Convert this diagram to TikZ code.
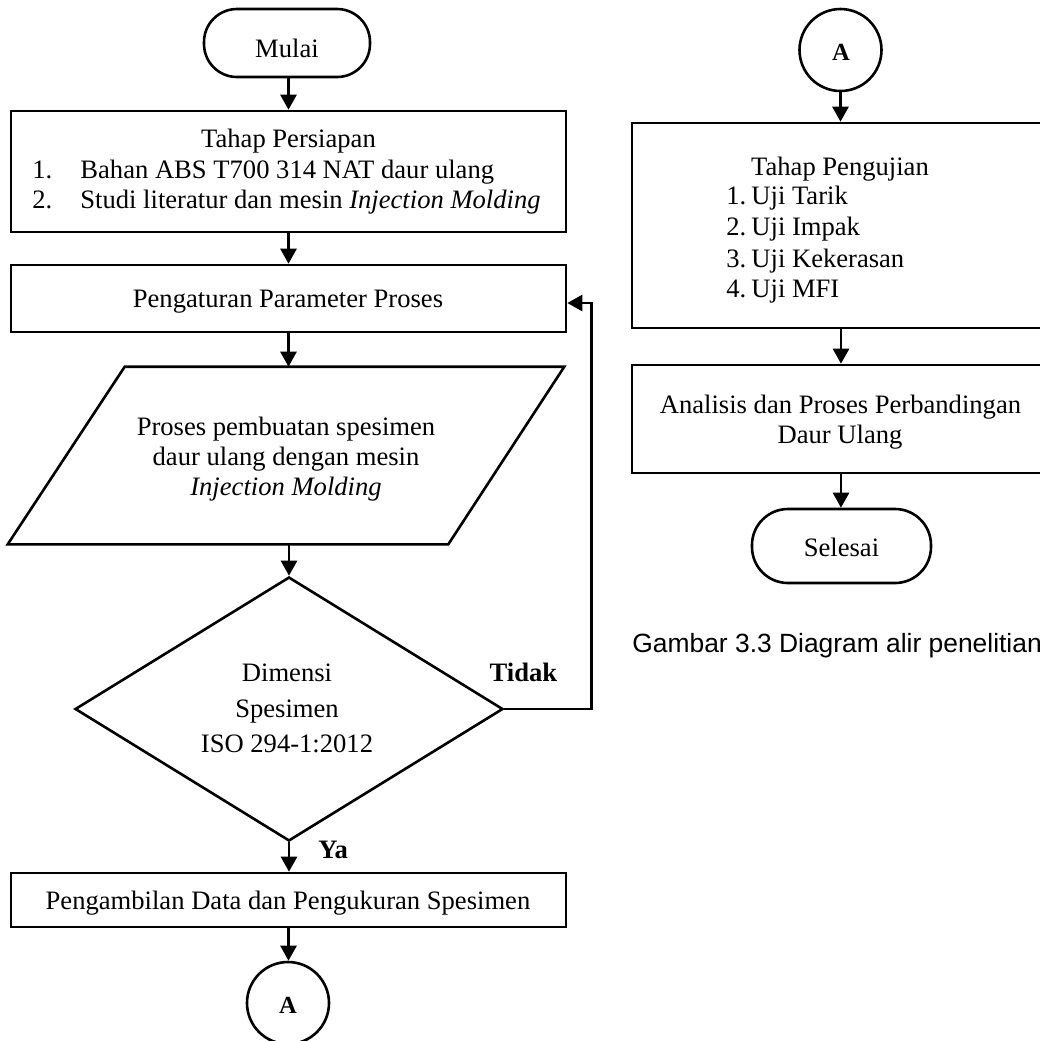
\documentclass[tikz,border=0pt]{standalone}
\usepackage{fontspec}
\setmainfont{Liberation Serif}
\newfontfamily\capfont{Liberation Sans}
\usetikzlibrary{shapes.geometric,arrows.meta}
\begin{document}
\begin{tikzpicture}[x=0.5pt,y=-0.5pt,
  shp/.style={draw, line width=1.3pt, inner sep=0pt},
  boxr/.style={shp, rectangle},
  term/.style={shp, rectangle, rounded corners=16.5pt},
  conn/.style={shp, circle, minimum size=41pt},
  txt/.style={inner sep=0pt, anchor=base, font=\fontsize{13.3}{15}\selectfont},
  txtl/.style={txt, anchor=base west},
  btxt/.style={txt, font=\fontsize{13.3}{15}\selectfont\bfseries},
  atxt/.style={txt, font=\fontsize{12.3}{14}\selectfont\bfseries},
  arr/.style={line width=1.3pt, -{Triangle[length=7.5pt,width=8pt]}}
]
\useasboundingbox (0,0) rectangle (1040,1041);
\clip (0,0) rectangle (1040,1041);

% shapes
\node[term, minimum width=83pt, minimum height=34pt] (mulai) at (287,43) {};
\node[boxr, minimum width=277.5pt, minimum height=60.5pt] (prep) at (288.5,171.5) {};
\node[boxr, minimum width=277.5pt, minimum height=33.5pt] (param) at (288.5,298.5) {};
\node[inner sep=0pt, outer sep=0.65pt, minimum width=277pt, minimum height=87.5pt] (proses) at (286,455.5) {};
\draw[line width=1.3pt, line join=miter]
  ([xshift=58.5pt]proses.north west) -- (proses.north east)
  -- ([xshift=-58pt]proses.south east) -- (proses.south west) -- cycle;
\node[shp, diamond, minimum width=214pt, minimum height=132pt] (dim) at (289,709) {};
\node[boxr, minimum width=277.5pt, minimum height=27pt] (data) at (288.5,900) {};
\node[conn] (aL) at (288,1003) {};
\node[conn] (aR) at (840.5,50) {};
\node[boxr, minimum width=209pt, minimum height=102.5pt] (uji) at (841,225.5) {};
\node[boxr, minimum width=209pt, minimum height=54pt] (anal) at (841,419) {};
\node[term, rounded corners=18pt, minimum width=89.5pt, minimum height=37pt] (sel) at (841.5,546) {};

% texts
\node[txt] (tmulai) at (287,57) {Mulai};
\node[txt] (tprep) at (288.5,147) {Tahap Persiapan};
\node[txtl] (tp1n) at (32,178) {1.};
\node[txtl] (tp1) at (80,178) {Bahan ABS T700 314 NAT daur ulang};
\node[txtl] (tp2n) at (32,208) {2.};
\node[txtl] (tp2) at (80,208) {Studi literatur dan mesin \textit{Injection Molding}};
\node[txt] (tparam) at (288,307) {Pengaturan Parameter Proses};
\node[txt] (tpr1) at (286,435) {Proses pembuatan spesimen};
\node[txt] (tpr2) at (286,465) {daur ulang dengan mesin};
\node[txt] (tpr3) at (286,495) {\textit{Injection Molding}};
\node[txt] (td1) at (287,681) {Dimensi};
\node[txt] (td2) at (287,717) {Spesimen};
\node[txt] (td3) at (287,752) {ISO 294-1:2012};
\node[btxt] (ttidak) at (523.5,681) {Tidak};
\node[btxt, anchor=base west] (tya) at (318,858) {Ya};
\node[txt] (tdata) at (288,909) {Pengambilan Data dan Pengukuran Spesimen};
\node[atxt] (tAL) at (288,1013) {A};
\node[atxt] (tAR) at (841,60) {A};
\node[txt] (tuji) at (840,175) {Tahap Pengujian};
\node[txtl] (tu1n) at (726,204) {1.};
\node[txtl] (tu1) at (751,204) {Uji Tarik};
\node[txtl] (tu2n) at (726,235) {2.};
\node[txtl] (tu2) at (751,235) {Uji Impak};
\node[txtl] (tu3n) at (726,267) {3.};
\node[txtl] (tu3) at (751,267) {Uji Kekerasan};
\node[txtl] (tu4n) at (726,297) {4.};
\node[txtl] (tu4) at (751,297) {Uji MFI};
\node[txt] (tan1) at (840.5,413) {Analisis dan Proses Perbandingan};
\node[txt] (tan2) at (840,443) {Daur Ulang};
\node[txt] (tsel) at (841.5,556) {Selesai};
\node[txtl, font=\capfont\fontsize{13.2}{15}\selectfont] (cap) at (632,652) {Gambar 3.3 Diagram alir penelitian};

% connectors
\draw[arr] (prep.north |- mulai.south) -- (prep.north);
\draw[arr] (prep.south) -- (param.north);
\draw[arr] (param.south) -- (param.south |- proses.north);
\draw[arr] (dim.north |- proses.south) -- (dim.north);
\draw[arr] (dim.south) -- (dim.south |- data.north);
\draw[arr] (data.south) -- (data.south |- aL.north);
\draw[arr] (dim.east) -- ++(87,0) |- ([yshift=-2.25pt]param.east);
\draw[arr] (aR.south) -- (aR.south |- uji.north);
\draw[arr] (uji.south) -- (anal.north);
\draw[arr] (anal.south) -- (anal.south |- sel.north);
\end{tikzpicture}
\end{document}
